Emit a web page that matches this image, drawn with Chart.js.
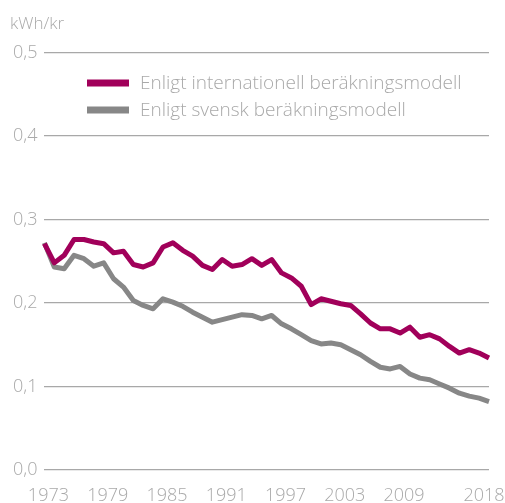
<!DOCTYPE html>
<html>
<head>
<meta charset="utf-8">
<script src="https://cdn.jsdelivr.net/npm/chart.js@4/dist/chart.umd.min.js"></script>
<style>
html,body{margin:0;padding:0;background:#fff;}
#wrap{position:relative;width:505px;height:503px;}
</style>
</head>
<body>
<div id="wrap"><canvas id="c" width="505" height="503"></canvas></div>
<script>
const years = [];
for (let y = 1973; y <= 2018; y++) years.push(String(y));
const tickYears = ['1973','1979','1985','1991','1997','2003','2009','2018'];
const yTicks = [0, 0.1, 0.2, 0.3, 0.4, 0.5];
const unitLabel = 'kWh/kr';
const seriesNames = ['Enligt internationell beräkningsmodell', 'Enligt svensk beräkningsmodell'];
const internationalValues = [
  0.271, 0.248, 0.257, 0.276, 0.276, 0.273, 0.271, 0.260, 0.262, 0.246,
  0.243, 0.248, 0.267, 0.272, 0.263, 0.256, 0.245, 0.240, 0.252, 0.244,
  0.246, 0.253, 0.245, 0.252, 0.236, 0.230, 0.220, 0.198, 0.205, 0.202,
  0.199, 0.197, 0.187, 0.176, 0.169, 0.169, 0.164, 0.171, 0.159, 0.162,
  0.157, 0.148, 0.140, 0.144, 0.140, 0.134
];
const swedishValues = [
  0.272, 0.243, 0.241, 0.257, 0.253, 0.244, 0.248, 0.229, 0.219, 0.203,
  0.197, 0.193, 0.205, 0.201, 0.196, 0.189, 0.183, 0.177, 0.180, 0.183,
  0.186, 0.185, 0.181, 0.185, 0.175, 0.169, 0.162, 0.155, 0.151, 0.152,
  0.150, 0.144, 0.138, 0.130, 0.123, 0.121, 0.124, 0.115, 0.110, 0.108,
  0.103, 0.098, 0.092, 0.0885, 0.086, 0.082
];
const colors = ['#a1005a', '#878787'];
const textColor = '#a9a9a9';
const FONT = "'Open Sans', 'Noto Sans', sans-serif";

const legendPlugin = {
  id: 'inlineLegend',
  afterDraw(chart) {
    const ctx = chart.ctx;
    ctx.save();
    ctx.font = '300 19px ' + FONT;
    ctx.textBaseline = 'middle';
    ctx.textAlign = 'left';
    chart.data.datasets.forEach((ds, i) => {
      const y = 83 + i * 27;
      ctx.fillStyle = ds.borderColor;
      ctx.fillRect(87, y - 3.5, 42, 7);
      ctx.fillStyle = textColor;
      ctx.fillText(ds.label, 140, y + 1);
    });
    ctx.restore();
  }
};

const layoutTweaks = {
  id: 'layoutTweaks',
  afterLayout(chart) {
    const t = chart.titleBlock;
    if (t) { t.left += 4; t.right += 4; }
  },
  beforeDraw(chart) {
    const sx = chart.scales.x;
    if (!sx || !sx.getLabelItems) return;
    const items = sx.getLabelItems(chart.chartArea);
    if (!items || !items.length) return;
    const last = items[items.length - 1];
    if (last && last.options && last.options.translation) {
      last.options.textAlign = 'right';
      last.options.translation[0] = chart.width - 0.5;
    }
  }
};

new Chart(document.getElementById('c'), {
  type: 'line',
  data: {
    labels: years,
    datasets: [
      { label: seriesNames[0], data: internationalValues, borderColor: colors[0], backgroundColor: colors[0] },
      { label: seriesNames[1], data: swedishValues, borderColor: colors[1], backgroundColor: colors[1] }
    ]
  },
  options: {
    responsive: false,
    animation: false,
    devicePixelRatio: 1,
    elements: {
      line: { borderWidth: 5, tension: 0, borderJoinStyle: 'round', borderCapStyle: 'butt' },
      point: { radius: 0, hoverRadius: 0 }
    },
    layout: { padding: { left: 6, right: 16, top: 0, bottom: 0 } },
    plugins: {
      legend: { display: false },
      tooltip: { enabled: false },
      title: {
        display: true,
        text: unitLabel,
        align: 'start',
        color: textColor,
        font: { family: FONT, size: 17, weight: '300', lineHeight: 1.2 },
        padding: { top: 14, bottom: 18 }
      }
    },
    scales: {
      x: {
        type: 'category',
        offset: false,
        grid: { display: false, drawTicks: false },
        border: { display: false },
        afterFit(scale) { scale.paddingRight = 0; scale.height = 33; },
        ticks: {
          autoSkip: false,
          maxRotation: 0,
          minRotation: 0,
          padding: 17,
          labelOffset: 4,
          color: textColor,
          font: { family: FONT, size: 18, weight: '300', lineHeight: 1.0 },
          callback(value, index) {
            const l = years[index];
            return tickYears.includes(l) ? l : '';
          }
        }
      },
      y: {
        min: 0,
        max: 0.5,
        afterBuildTicks(scale) { scale.ticks = yTicks.map(v => ({ value: v })); },
        grid: { color: '#a8a8a8', lineWidth: 1.2, drawTicks: false },
        border: { display: false },
        ticks: {
          padding: 7,
          color: textColor,
          font: { family: FONT, size: 18, weight: '300' },
          callback(value) { return value.toFixed(1).replace('.', ','); }
        }
      }
    }
  },
  plugins: [legendPlugin, layoutTweaks]
});
</script>
</body>
</html>
